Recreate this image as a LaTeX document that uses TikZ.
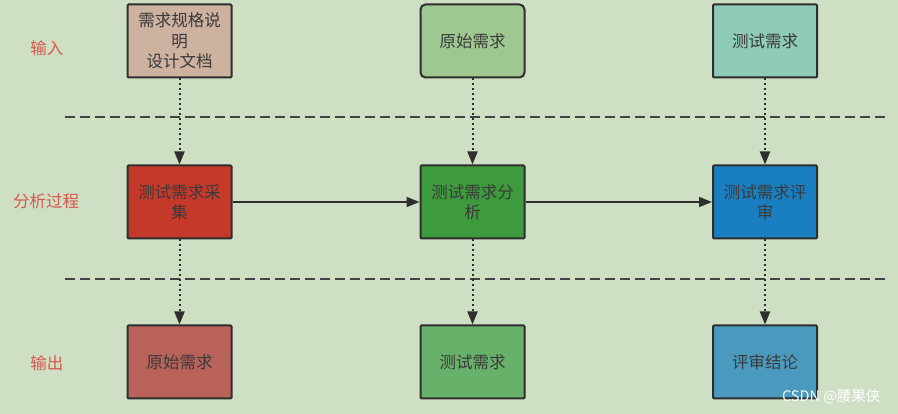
\documentclass[tikz,border=0pt]{standalone}
\usepackage{fontspec}
\setmainfont{Noto Sans CJK SC}
\usetikzlibrary{arrows.meta}
\definecolor{bgc}{HTML}{CFDFC4}
\definecolor{lab}{HTML}{D9574C}
\definecolor{tA}{HTML}{CDB29F}
\definecolor{tB}{HTML}{9FC891}
\definecolor{tC}{HTML}{8ECBB9}
\definecolor{mA}{HTML}{C5392A}
\definecolor{mB}{HTML}{3D9A3D}
\definecolor{mC}{HTML}{1A7FC1}
\definecolor{bA}{HTML}{B9625A}
\definecolor{bB}{HTML}{68B16A}
\definecolor{bC}{HTML}{4A9AC0}
\definecolor{edge}{HTML}{2E2E2E}
\definecolor{txt}{HTML}{3A3A3A}
\tikzset{
  box/.style={draw=edge, line width=2pt, minimum width=104pt, minimum height=73pt,
    align=center, text=txt, font=\fontsize{16.5pt}{20.5pt}\selectfont, rounded corners=1pt, inner sep=2pt},
  sidelabel/.style={text=lab, font=\fontsize{16.5pt}{18pt}\selectfont},
  dotarrow/.style={draw=edge, line width=2pt, dash pattern=on 2pt off 3pt,
    -{Triangle[length=13pt,width=10pt]}},
  solidarrow/.style={draw=edge, line width=1.6pt, -{Triangle[length=13pt,width=10pt]}},
  sep/.style={draw=edge!90, line width=2.4pt, dash pattern=on 10pt off 5pt},
}
\begin{document}
\begin{tikzpicture}[x=1pt,y=-1pt]
\fill[bgc] (0,0) rectangle (898,414);
\useasboundingbox (0,0) rectangle (898,414);

% side labels
\node[sidelabel] (lin) at (47,48) {输入};
\node[sidelabel] (lproc) at (46,201) {分析过程};
\node[sidelabel] (lout) at (47,363) {输出};

% separators
\coordinate (s1a) at (65,117);
\coordinate (s1b) at (886,117);
\coordinate (s2a) at (65,279);
\coordinate (s2b) at (886,279);
\draw[sep] (s1a) -- (s1b);
\draw[sep] (s2a) -- (s2b);

% top row
\node[box, fill=tA] (t1) at (179.5,41) {需求规格说\\明\\设计文档};
\node[box, fill=tB, rounded corners=5pt] (t2) at (472.5,41) {原始需求};
\node[box, fill=tC] (t3) at (765,41) {测试需求};

% middle row
\node[box, fill=mA] (m1) at (179.5,202) {测试需求采\\集};
\node[box, fill=mB] (m2) at (472.5,202) {测试需求分\\析};
\node[box, fill=mC] (m3) at (765,202) {测试需求评\\审};

% bottom row
\node[box, fill=bA] (b1) at (179.5,362) {原始需求};
\node[box, fill=bB] (b2) at (472.5,362) {测试需求};
\node[box, fill=bC] (b3) at (765,362) {评审结论};

% arrows
\draw[dotarrow] (t1) -- (m1);
\draw[dotarrow] (t2) -- (m2);
\draw[dotarrow] (t3) -- (m3);
\draw[dotarrow] (m1) -- (b1);
\draw[dotarrow] (m2) -- (b2);
\draw[dotarrow] (m3) -- (b3);
\draw[solidarrow] (m1) -- (m2);
\draw[solidarrow] (m2) -- (m3);

% watermark
\node[text=white, font=\fontsize{14.5pt}{16pt}\selectfont, anchor=east] (wm) at (884,397) {CSDN @腰果侠};
\end{tikzpicture}
\end{document}
